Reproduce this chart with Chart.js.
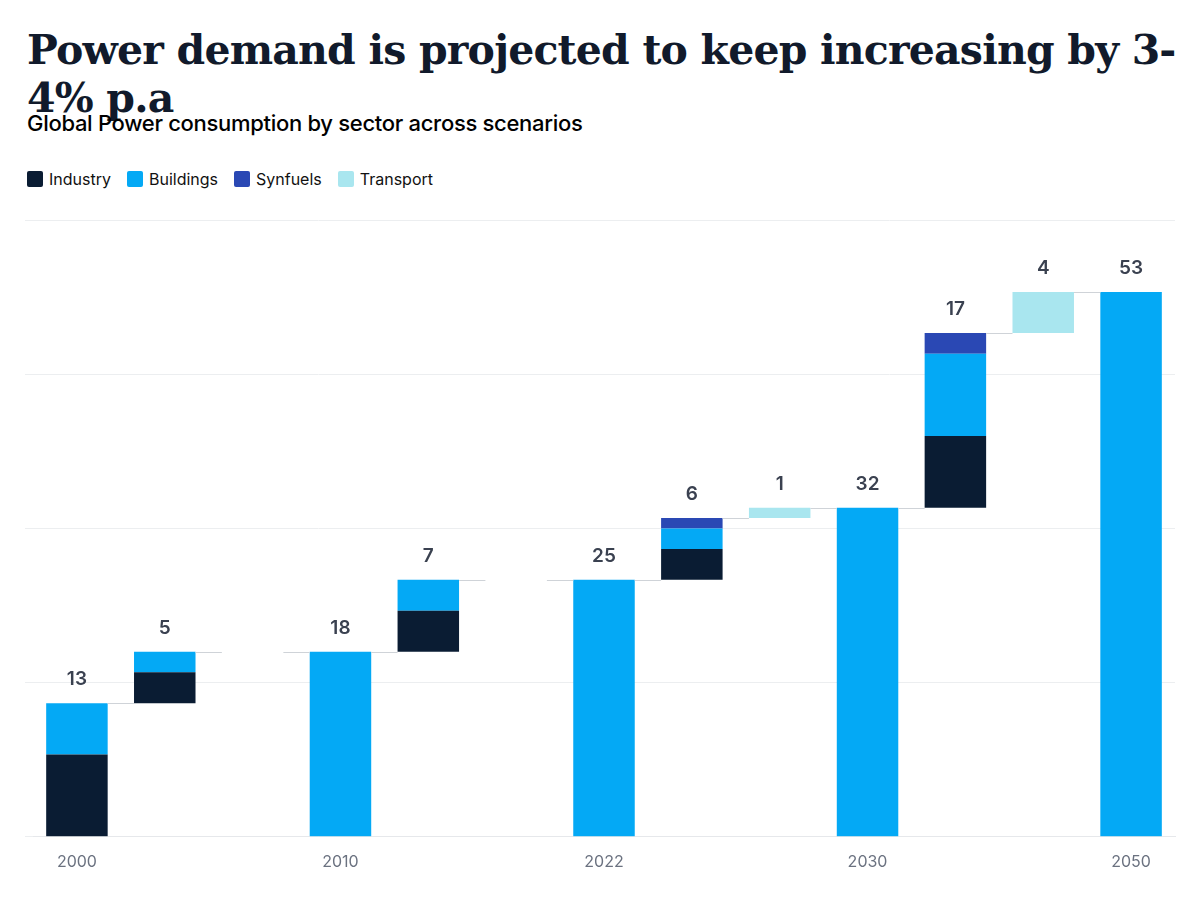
<!DOCTYPE html>
<html>
<head>
<meta charset="utf-8">
<script src="https://cdn.jsdelivr.net/npm/chart.js@4.4.0/dist/chart.umd.min.js"></script>
<style>
  body { margin: 0; background: #fff; font-family: Inter, sans-serif; }
  h1 { position: absolute; left: 27px; top: 26px; margin: 0; font: bold 41px "DejaVu Serif", serif; color: #111a2b; letter-spacing: -0.8px; }
  h2 { position: absolute; left: 27px; top: 110px; margin: 0; font: 500 22px Inter, sans-serif; color: #000; letter-spacing: -0.3px; }
  .legend { position: absolute; left: 27px; top: 169px; display: flex; gap: 16px; font: 16px Inter, sans-serif; color: #111; }
  .legend span { display: flex; align-items: center; }
  .legend i { display: inline-block; width: 16px; height: 16px; border-radius: 2px; margin-right: 6px; }
  #wrap { position: absolute; left: 0; top: 200px; width: 1200px; height: 690px; }
</style>
</head>
<body>
<h1>Power demand is projected to keep increasing by 3-4% p.a</h1>
<h2>Global Power consumption by sector across scenarios</h2>
<div class="legend">
  <span><i style="background:#0a1c33"></i>Industry</span>
  <span><i style="background:#04a9f5"></i>Buildings</span>
  <span><i style="background:#2a48b4"></i>Synfuels</span>
  <span><i style="background:#a9e6ef"></i>Transport</span>
</div>
<div id="wrap"><canvas id="chart"></canvas></div>
<script>
// ── Data ──────────────────────────────────────────────────────────────
const categories = ['2000', '', '', '2010', '', '', '2022', '', '', '2030', '', '', '2050'];
const isTotal    = [true, false, null, true, false, null, true, false, false, true, false, false, true];
const industry   = [8, 3, 0, 0, 4, 0, 0, 3, 0, 0, 7, 0, 0];
const buildings  = [5, 2, 0, 18, 3, 0, 25, 2, 0, 32, 8, 0, 53];
const synfuels   = [0, 0, 0, 0, 0, 0, 0, 1, 0, 0, 2, 0, 0];
const transport  = [0, 0, 0, 0, 0, 0, 0, 0, 1, 0, 0, 4, 0];
const valueLabels = ['13', '5', '', '18', '7', '', '25', '6', '1', '32', '17', '4', '53'];
const yTicks = [0, 15, 30, 45, 60];

const sectors = [
  { label: 'Industry',  values: industry,  color: '#0a1c33' },
  { label: 'Buildings', values: buildings, color: '#04a9f5' },
  { label: 'Synfuels',  values: synfuels,  color: '#2a48b4' },
  { label: 'Transport', values: transport, color: '#a9e6ef' },
];

// floating ranges: totals start at 0, deltas continue from the running level
const bases = [];
const tops = [];
let level = 0;
categories.forEach((c, i) => {
  const start = isTotal[i] ? 0 : level;
  bases.push(start);
  let sum = start;
  sectors.forEach(s => { sum += s.values[i]; });
  tops.push(sum);
  level = sum;
});

const datasets = sectors.map((s, k) => ({
  label: s.label,
  backgroundColor: s.color,
  borderWidth: 0,
  data: categories.map((c, i) => {
    if (!s.values[i]) return null;
    let a = bases[i];
    for (let j = 0; j < k; j++) a += sectors[j].values[i];
    return [a, a + s.values[i]];
  }),
}));

// ── Connectors and value labels ───────────────────────────────────────
const waterfallPlugin = {
  id: 'waterfall',
  afterDatasetsDraw(chart) {
    const { ctx, scales: { x, y } } = chart;
    const half = x.getPixelForValue(1) - x.getPixelForValue(0);
    const bw = half * 0.7 / 2;
    ctx.save();
    ctx.strokeStyle = '#cfd3d8';
    ctx.lineWidth = 1;
    for (let i = 0; i < categories.length - 1; i++) {
      const yy = Math.round(y.getPixelForValue(tops[i])) + 0.5;
      ctx.beginPath();
      ctx.moveTo(x.getPixelForValue(i) + bw, yy);
      ctx.lineTo(x.getPixelForValue(i + 1) - bw, yy);
      ctx.stroke();
    }
    ctx.fillStyle = '#3a4150';
    ctx.font = '600 19px Inter, sans-serif';
    ctx.textAlign = 'center';
    ctx.textBaseline = 'bottom';
    valueLabels.forEach((t, i) => {
      if (!t) return;
      ctx.fillText(t, x.getPixelForValue(i), y.getPixelForValue(tops[i]) - 14);
    });
    ctx.restore();
  }
};

new Chart(document.getElementById('chart'), {
  type: 'bar',
  data: { labels: categories, datasets },
  plugins: [waterfallPlugin],
  options: {
    responsive: true,
    maintainAspectRatio: false,
    animation: false,
    layout: { padding: { left: 25, right: 25, top: 20, bottom: 10 } },
    datasets: { bar: { categoryPercentage: 1, barPercentage: 0.7, grouped: false } },
    plugins: { legend: { display: false }, tooltip: { enabled: false } },
    scales: {
      x: {
        stacked: true,
        grid: { display: false },
        border: { color: '#e6e8eb' },
        ticks: { color: '#6b7280', font: { family: 'Inter', size: 16 }, padding: 8, autoSkip: false, maxRotation: 0 }
      },
      y: {
        min: 0, max: 60,
        afterBuildTicks: ax => { ax.ticks = yTicks.map(v => ({ value: v })); },
        grid: { color: '#eceef0' },
        border: { display: false },
        ticks: { display: false }
      }
    }
  }
});
</script>
</body>
</html>
